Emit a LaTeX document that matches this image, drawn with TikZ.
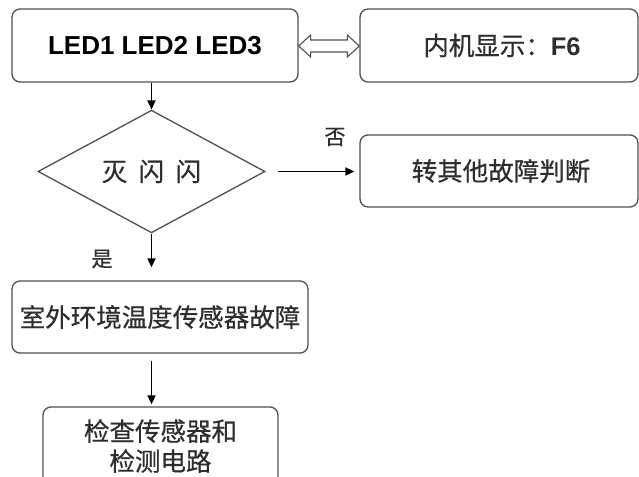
\documentclass[tikz,border=0pt]{standalone}
\usepackage{fontspec}
\setmainfont{Liberation Sans}
\newfontfamily\cjk{Noto Sans CJK SC}[FakeBold=0.6]
\usetikzlibrary{shapes.geometric,arrows.meta,calc}
\definecolor{linegray}{HTML}{505050}
\definecolor{textgray}{HTML}{2E2E2E}
\begin{document}
\begin{tikzpicture}[x=1pt,y=-1pt,
  box/.style={draw=linegray, line width=1.3pt, rounded corners=8pt, rectangle,
    inner sep=0pt, align=center, text=textgray, font=\cjk\fontsize{25.5}{30}\selectfont},
  dec/.style={draw=linegray, line width=1.3pt, diamond, inner sep=0pt,
    text=textgray, font=\cjk\fontsize{25.5}{30}\selectfont},
  flow/.style={draw=black, line width=1.8pt, -{Triangle[length=9pt,width=8pt]}},
  lbl/.style={text=textgray, inner sep=0pt, font=\cjk\fontsize{21}{24}\selectfont}]
\useasboundingbox (0,0) rectangle (639,476);
\fill[white] (0,0) rectangle (639,476);
\node[box, minimum width=286pt, minimum height=73pt, font=\bfseries\fontsize{26}{30}\selectfont, text=black] (b1) at (155,45.5) {LED1 LED2 LED3};
\node[box, minimum width=278pt, minimum height=73pt] (b2) at (499,45.5) {\hspace*{6pt}内机显示：{\rmfamily\bfseries F6}};
\node[dec, minimum width=227pt, minimum height=101pt] (d) at (151.5,171.5) {灭\hspace{0.45em}闪\hspace{0.45em}闪};
\node[box, minimum width=278pt, minimum height=72pt] (b3) at (499,171) {\hspace*{4pt}转其他故障判断};
\node[box, minimum width=296pt, minimum height=72pt] (b4) at (160,317) {室外环境温度传感器故障};
\node[box, minimum width=235pt, minimum height=78pt] (b5) at (160.5,446) {检查传感器和\\检测电路};
% hollow double arrow between b1 and b2
\draw[draw=linegray, fill=white, line width=1.1pt, line join=miter]
  ($(b1.east)+(0,0.5)$) -- ++(12,-11) -- ++(0,5) coordinate (sl)
  -- ($(b2.west)+(-12,-5.5)$) -- ++(0,-5) -- ($(b2.west)+(0,0.5)$)
  -- ++(-12,11) -- ++(0,-5) -- ($(b1.east)+(12,6.5)$) -- ++(0,5) -- cycle;
\draw[flow] (d.north |- b1.south) -- (d.north);
\draw[flow, shorten >=13pt] (d.south) -- (d.south |- b4.north);
\draw[flow, shorten <=7pt, shorten >=2pt] (d.south |- b4.south) -- (d.south |- b5.north);
\draw[flow, shorten <=12pt, shorten >=5pt] (d.east) -- (d.east -| b3.west);
\node[lbl] (no) at (335,137) {否};
\node[lbl] (yes) at (102,259) {是};
\end{tikzpicture}
\end{document}
